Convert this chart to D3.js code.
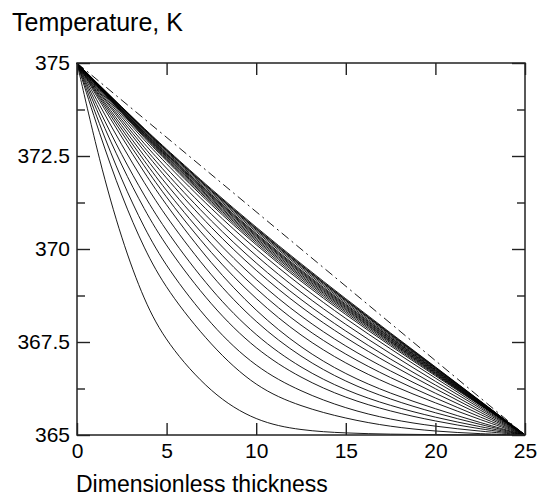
<!DOCTYPE html>
<html>
<head>
<meta charset="utf-8">
<script src="https://cdn.jsdelivr.net/npm/d3@7"></script>
<style>
  body { margin: 0; background: #fff; }
  svg { display: block; font-family: "Liberation Sans", Arial, sans-serif; }
  .axis text { font-size: 21px; fill: #000; }
  .axis line { stroke: #222; stroke-width: 1.4; }
  .axis path.domain { display: none; }
</style>
</head>
<body>
<svg id="chart"></svg>
<script>
// x positions (dimensionless thickness) at which each profile was read
const thickness = [0, 1.25, 2.5, 3.75, 5, 7.5, 10, 12.5, 15, 17.5, 20, 22.5, 25];

// temperature profiles, earliest (lowest) first
const profiles = [
  [375, 372.35, 370.24, 368.6, 367.47, 366.1, 365.36, 365.12, 365.05, 365.02, 365.01, 365.0, 365],
  [375, 373.1, 371.4, 370.0, 368.9, 367.38, 366.27, 365.76, 365.44, 365.22, 365.1, 365.03, 365],
  [375, 373.35, 371.84, 370.56, 369.5, 367.93, 366.8, 366.16, 365.71, 365.41, 365.23, 365.1, 365],
  [375, 373.56, 372.23, 371.06, 370.05, 368.46, 367.28, 366.52, 365.99, 365.63, 365.37, 365.16, 365],
  [375, 373.72, 372.52, 371.43, 370.46, 368.86, 367.64, 366.79, 366.19, 365.78, 365.47, 365.22, 365],
  [375, 373.87, 372.79, 371.78, 370.84, 369.25, 368.0, 367.08, 366.42, 365.95, 365.59, 365.28, 365],
  [375, 373.99, 373.0, 372.06, 371.16, 369.58, 368.31, 367.33, 366.62, 366.11, 365.70, 365.33, 365],
  [375, 374.05, 373.12, 372.23, 371.37, 369.86, 368.63, 367.65, 366.91, 366.34, 365.86, 365.41, 365],
  [375, 374.1, 373.22, 372.37, 371.55, 370.1, 368.9, 367.92, 367.15, 366.53, 365.99, 365.48, 365],
  [375, 374.14, 373.31, 372.5, 371.72, 370.33, 369.15, 368.17, 367.37, 366.71, 366.12, 365.55, 365],
  [375, 374.19, 373.4, 372.63, 371.89, 370.55, 369.4, 368.42, 367.6, 366.89, 366.24, 365.61, 365],
  [375, 374.22, 373.47, 372.73, 372.02, 370.73, 369.6, 368.62, 367.78, 367.03, 366.34, 365.67, 365],
  [375, 374.26, 373.54, 372.83, 372.16, 370.91, 369.8, 368.82, 367.96, 367.18, 366.44, 365.72, 365],
  [375, 374.29, 373.6, 372.93, 372.28, 371.07, 369.98, 369.0, 368.12, 367.31, 366.53, 365.76, 365],
  [375, 374.31, 373.65, 372.99, 372.36, 371.17, 370.1, 369.12, 368.23, 367.39, 366.59, 365.8, 365],
  [375, 374.32, 373.67, 373.02, 372.4, 371.22, 370.15, 369.17, 368.28, 367.43, 366.62, 365.81, 365],
  [375, 374.33, 373.68, 373.04, 372.43, 371.26, 370.2, 369.22, 368.32, 367.47, 366.64, 365.82, 365],
  [375, 374.34, 373.7, 373.06, 372.46, 371.3, 370.24, 369.26, 368.36, 367.5, 366.66, 365.83, 365],
  [375, 374.35, 373.71, 373.08, 372.48, 371.33, 370.28, 369.3, 368.39, 367.52, 366.68, 365.84, 365],
  [375, 374.36, 373.73, 373.1, 372.51, 371.37, 370.32, 369.34, 368.42, 367.55, 366.7, 365.85, 365],
  [375, 374.36, 373.74, 373.12, 372.53, 371.4, 370.35, 369.37, 368.45, 367.57, 366.72, 365.86, 365],
  [375, 374.37, 373.75, 373.14, 372.55, 371.43, 370.38, 369.4, 368.48, 367.6, 366.74, 365.87, 365],
  [375, 374.37, 373.76, 373.15, 372.57, 371.45, 370.41, 369.43, 368.51, 367.62, 366.75, 365.88, 365],
  [375, 374.38, 373.78, 373.18, 372.6, 371.49, 370.46, 369.48, 368.55, 367.65, 366.77, 365.89, 365],
  [375, 374.39, 373.79, 373.2, 372.63, 371.53, 370.5, 369.52, 368.59, 367.68, 366.79, 365.9, 365],
  [375, 374.39, 373.8, 373.21, 372.65, 371.56, 370.53, 369.55, 368.62, 367.7, 366.8, 365.91, 365],
  [375, 374.4, 373.81, 373.22, 372.66, 371.57, 370.55, 369.57, 368.63, 367.72, 366.82, 365.91, 365],
  [375, 374.4, 373.82, 373.24, 372.68, 371.6, 370.58, 369.6, 368.66, 367.74, 366.83, 365.92, 365]
];

// dash-dot straight line between the two wall temperatures
const linearX = [0, 25];
const linearT = [375, 365];

const xTicks = [0, 5, 10, 15, 20, 25];
const yTicks = [365, 367.5, 370, 372.5, 375];
const yMinorTicks = [366.25, 368.75, 371.25, 373.75];

const config = {
  width: 541, height: 497,
  margin: {top: 63, right: 16, bottom: 62, left: 77}
};

let innerW = config.width - config.margin.left - config.margin.right;
let innerH = config.height - config.margin.top - config.margin.bottom;

const svg = d3.select('#chart')
  .attr('width', config.width)
  .attr('height', config.height);

const chart = svg.append('g')
  .attr('transform', `translate(${config.margin.left},${config.margin.top})`);

const xScale = d3.scaleLinear().domain([0, 25]).range([0, innerW]);
const yScale = d3.scaleLinear().domain([365, 375]).range([innerH, 0]);

// curves (smoothed through the read points)
const line = d3.line()
  .x(d => xScale(d[0]))
  .y(d => yScale(d[1]))
  .curve(d3.curveBasis);

chart.selectAll('path.profile')
  .data(profiles)
  .join('path')
  .attr('class', 'profile')
  .attr('d', p => line(p.map((t, i) => [thickness[i], t])))
  .attr('fill', 'none')
  .attr('stroke', '#000')
  .attr('stroke-width', 0.9);

chart.append('path')
  .attr('d', line(linearX.map((x, i) => [x, linearT[i]])))
  .attr('fill', 'none')
  .attr('stroke', '#000')
  .attr('stroke-width', 0.9)
  .attr('stroke-dasharray', '9,4,2,4');

// axes - ticks point inward
const fmt = d => String(d);
chart.append('g').attr('class', 'axis')
  .attr('transform', `translate(0,${innerH})`)
  .call(d3.axisBottom(xScale).tickValues(xTicks).tickSize(-12).tickPadding(8).tickFormat(fmt));
chart.append('g').attr('class', 'axis')
  .call(d3.axisTop(xScale).tickValues(xTicks).tickSize(-12).tickFormat(''));
chart.append('g').attr('class', 'axis')
  .call(d3.axisLeft(yScale).tickValues(yTicks).tickSize(-13).tickPadding(7).tickFormat(fmt));
chart.append('g').attr('class', 'axis')
  .call(d3.axisLeft(yScale).tickValues(yMinorTicks).tickSize(-8).tickFormat(''));
chart.append('g').attr('class', 'axis')
  .attr('transform', `translate(${innerW},0)`)
  .call(d3.axisRight(yScale).tickValues(yTicks).tickSize(-13).tickFormat(''));
chart.append('g').attr('class', 'axis')
  .attr('transform', `translate(${innerW},0)`)
  .call(d3.axisRight(yScale).tickValues(yMinorTicks).tickSize(-8).tickFormat(''));

// frame
chart.append('rect')
  .attr('width', innerW)
  .attr('height', innerH)
  .attr('fill', 'none')
  .attr('stroke', '#222')
  .attr('stroke-width', 1.5);

// axis titles
svg.append('text')
  .attr('x', 12).attr('y', 31)
  .attr('font-size', 25)
  .text('Temperature, K');

svg.append('text')
  .attr('x', 76).attr('y', 492)
  .attr('font-size', 23)
  .text('Dimensionless thickness');
</script>
</body>
</html>
